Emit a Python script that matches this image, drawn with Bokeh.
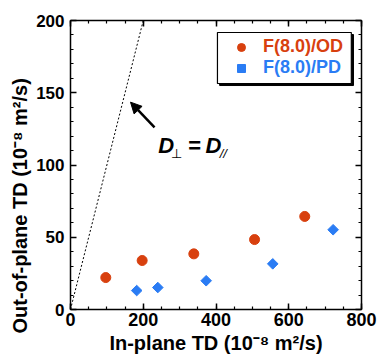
from bokeh.plotting import figure
from bokeh.models import (Range1d, LinearAxis, FixedTicker, Arrow, NormalHead,
                          Legend, LegendItem, Title)
from bokeh.core.properties import value
from bokeh.embed import file_html
from bokeh.resources import INLINE

# ---- data ----
od_x = [97, 197, 339, 506, 644]
od_y = [22.1, 33.9, 38.5, 48.4, 64.4]
pd_x = [182, 240, 373, 556, 722]
pd_y = [13.1, 15.2, 19.9, 31.6, 55.2]
ref_x = [0, 200]
ref_y = [0, 200]
x_ticks = [0, 200, 400, 600, 800]
y_ticks = [0, 50, 100, 150, 200]
od_label = "F(8.0)/OD"
pd_label = "F(8.0)/PD"
x_title = "In-plane TD (10\u207B\u2078 m\u00B2/s)"
y_title = "Out-of-plane TD (10\u207B\u2078 m\u00B2/s)"

RED = "#D8400E"
BLUE = "#2A7CF4"
FONT = "Liberation Sans"

p = figure(width=379, height=357, output_backend="svg", toolbar_location=None,
           x_range=Range1d(0, 800), y_range=Range1d(0, 200),
           min_border_left=70, min_border_right=18, min_border_top=20, min_border_bottom=48,
           x_axis_label=x_title)
p.grid.visible = False
p.outline_line_color = None
p.background_fill_color = "white"

def style_axis(ax, size="17px"):
    ax.axis_line_color = "black"
    ax.axis_line_width = 1.5
    ax.major_tick_in = 6
    ax.major_tick_out = 0
    ax.minor_tick_in = 3
    ax.minor_tick_out = 0
    ax.major_tick_line_width = 1.5
    ax.minor_tick_line_width = 1.2
    ax.major_label_text_font = FONT
    ax.major_label_text_font_style = "bold"
    ax.major_label_text_font_size = size
    ax.major_label_text_color = "black"
    ax.axis_label_text_font = FONT
    ax.axis_label_text_font_style = "bold"
    ax.axis_label_text_font_size = "20px"
    ax.axis_label_text_color = "black"

xt = FixedTicker(ticks=x_ticks, minor_ticks=list(range(0, 801, 50)))
yt = FixedTicker(ticks=y_ticks, minor_ticks=list(range(0, 201, 10)))

p.xaxis.ticker = xt
p.yaxis.ticker = yt
style_axis(p.xaxis[0], "18px")
style_axis(p.yaxis[0], "17px")
p.xaxis.major_label_standoff = 3
p.yaxis.major_label_standoff = 6
p.xaxis.axis_label_standoff = 3

top = LinearAxis(ticker=xt, major_label_overrides={t: "" for t in x_ticks})
style_axis(top)
right = LinearAxis(ticker=yt, major_label_overrides={t: "" for t in y_ticks})
style_axis(right)
p.add_layout(top, "above")
p.add_layout(right, "right")

# y axis title, starting a little below the frame bottom as in the original
p.add_layout(Title(text=y_title, align="left", offset=-24, standoff=6,
                   text_font=FONT, text_font_style="bold", text_font_size="20px",
                   text_color="black"), "left")

# reference line D_perp = D_par
p.line(ref_x, ref_y, line_color="black", line_width=1, line_dash="2 2")

# data
r_od = p.scatter(od_x, od_y, marker="circle", size=10, fill_color=RED, line_color=RED)
r_pd = p.scatter(pd_x, pd_y, marker="square", angle=45, angle_units="deg", size=7.5,
                 fill_color=BLUE, line_color=BLUE)

# annotation arrow
p.add_layout(Arrow(end=NormalHead(size=11, fill_color="black", line_color="black"),
                   x_start=231, y_start=126, x_end=165, y_end=143.5,
                   line_color="black", line_width=2.5))

# annotation text  D⊥ = D//
p.text(x=[241], y=[113.5], text=["D"], text_font=value(FONT), text_font_style="bold italic",
       text_font_size="22px", text_baseline="alphabetic", text_align="left", text_color="black")
p.text(x=[276], y=[108], text=["\u22A5"], text_font=value("DejaVu Sans"), text_font_style="normal",
       text_font_size="13px", text_baseline="alphabetic", text_align="left", text_color="black")
p.text(x=[324], y=[113.5], text=["="], text_font=value(FONT), text_font_style="bold",
       text_font_size="22px", text_baseline="alphabetic", text_align="left", text_color="black")
p.text(x=[371], y=[113.5], text=["D"], text_font=value(FONT), text_font_style="bold italic",
       text_font_size="22px", text_baseline="alphabetic", text_align="left", text_color="black")
p.text(x=[410], y=[108], text=["//"], text_font=value(FONT), text_font_style="italic",
       text_font_size="13px", text_baseline="alphabetic", text_align="left", text_color="black")

# legend box with shadow
p.quad(left=[410], right=[778], bottom=[155], top=[190.3], fill_color="black", line_color="black")
p.quad(left=[404], right=[772], bottom=[156.4], top=[191.7], fill_color="white",
       line_color="black", line_width=1.2)

def mk_legend(renderer, label, color, loc):
    lg = Legend(items=[LegendItem(label=label, renderers=[renderer])], location=loc,
                background_fill_alpha=0, border_line_color=None, padding=0, margin=0,
                label_standoff=12, glyph_width=20, glyph_height=20, label_height=20,
                label_text_font=FONT, label_text_font_style="bold",
                label_text_font_size="18px", label_text_color=color)
    p.add_layout(lg, "center")

mk_legend(r_od, od_label, RED, (161, 252))
mk_legend(r_pd, pd_label, BLUE, (161, 231))

open("out.html", "w").write(file_html(p, INLINE))
